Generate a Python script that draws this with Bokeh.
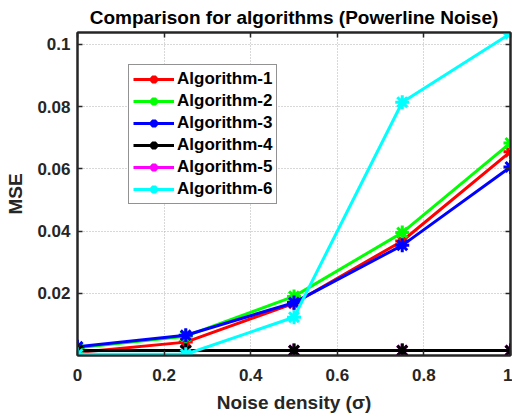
from bokeh.plotting import figure
from bokeh.models import FixedTicker, Legend, LegendItem, LinearAxis, Range1d
from bokeh.embed import file_html
from bokeh.resources import INLINE

noise = [0, 0.25, 0.5, 0.75, 1.0]
alg1 = [0.0010, 0.0043, 0.0168, 0.0368, 0.0655]
alg2 = [0.0025, 0.0062, 0.0190, 0.0395, 0.0683]
alg3 = [0.0028, 0.0065, 0.0170, 0.0354, 0.0606]
alg4 = [0.0016, 0.0016, 0.0016, 0.0016, 0.0016]
alg5 = [0.0016, 0.0016, 0.0016, 0.0016, 0.0016]
alg6 = [0.0004, 0.0004, 0.0123, 0.0814, 0.1035]
names = ["Algorithm-1", "Algorithm-2", "Algorithm-3", "Algorithm-4", "Algorithm-5", "Algorithm-6"]
colors = ["#ff0000", "#00ff00", "#0000ff", "#000000", "#ff00ff", "#00ffff"]
xticks = [0, 0.2, 0.4, 0.6, 0.8, 1.0]
xlabels = ["0", "0.2", "0.4", "0.6", "0.8", "1"]
yticks = [0.02, 0.04, 0.06, 0.08, 0.1]
ylabels = ["0.02", "0.04", "0.06", "0.08", "0.1"]

FONT = "Liberation Sans"
DARK = "#262626"

p = figure(frame_width=433, frame_height=323, output_backend="svg", toolbar_location=None,
           x_range=Range1d(0, 1), y_range=Range1d(0, 0.1038),
           min_border_left=77, min_border_right=2, min_border_top=32, min_border_bottom=64,
           title="Comparison for algorithms (Powerline Noise)")
p.title.text_font = FONT
p.title.text_font_size = "19px"
p.title.text_font_style = "bold"
p.title.text_color = "#000000"
p.title.align = "center"
p.title.offset = 0
p.title.standoff = 9

p.background_fill_color = "white"
p.border_fill_color = "white"
p.outline_line_color = DARK
p.outline_line_width = 2

for ax in (p.xaxis[0], p.yaxis[0]):
    ax.major_label_text_font = FONT
    ax.major_label_text_font_size = "17px"
    ax.major_label_text_font_style = "bold"
    ax.major_label_text_color = DARK
    ax.axis_label_text_font = FONT
    ax.axis_label_text_font_size = "19px"
    ax.axis_label_text_font_style = "bold"
    ax.axis_label_text_color = DARK
    ax.major_tick_in = 5
    ax.major_tick_out = 0
    ax.minor_tick_line_color = None
    ax.axis_line_color = DARK
    ax.axis_line_width = 2
    ax.major_tick_line_color = DARK
    ax.major_tick_line_width = 1.5

p.xaxis[0].ticker = FixedTicker(ticks=xticks)
p.xaxis[0].major_label_overrides = dict(zip(xticks, xlabels))
p.xaxis[0].axis_label = "Noise density (\u03c3)"
p.xaxis[0].major_label_standoff = 13
p.xaxis[0].axis_label_standoff = 8
p.yaxis[0].ticker = FixedTicker(ticks=yticks)
p.yaxis[0].major_label_overrides = dict(zip(yticks, ylabels))
p.yaxis[0].axis_label = "MSE"
p.yaxis[0].major_label_standoff = 7
p.yaxis[0].axis_label_standoff = 8

p.xgrid.ticker = FixedTicker(ticks=xticks)
p.ygrid.ticker = FixedTicker(ticks=yticks)
for g in (p.xgrid[0], p.ygrid[0]):
    g.grid_line_color = "#b0b0b0"
    g.grid_line_dash = "1 2"
    g.grid_line_width = 1

# top/right axes with inward ticks, no labels
top = LinearAxis(ticker=FixedTicker(ticks=xticks),
                 major_label_overrides={t: "" for t in xticks},
                 major_tick_in=5, major_tick_out=0, minor_tick_line_color=None,
                 major_tick_line_color=DARK, major_tick_line_width=1.5,
                 axis_line_color=DARK, axis_line_width=2, major_label_standoff=0)
right = LinearAxis(ticker=FixedTicker(ticks=yticks),
                   major_label_overrides={t: "" for t in yticks},
                   major_tick_in=5, major_tick_out=0, minor_tick_line_color=None,
                   major_tick_line_color=DARK, major_tick_line_width=1.5,
                   axis_line_color=DARK, axis_line_width=2, major_label_standoff=0)
p.add_layout(top, "above")
p.add_layout(right, "right")

series = [alg1, alg2, alg3, alg5, alg4, alg6]
order = [0, 1, 2, 4, 3, 5]
items = {}
for idx, ys in zip(order, series):
    c = colors[idx]
    r1 = p.line(noise, ys, line_color=c, line_width=3)
    r2 = p.scatter(noise, ys, marker="asterisk", size=14, line_color=c, line_width=3)
    items[idx] = LegendItem(label=names[idx], renderers=[r1, r2])

legend = Legend(items=[items[i] for i in range(6)], location=(51, 151))
legend.label_text_font = FONT
legend.label_text_font_size = "17px"
legend.label_text_font_style = "bold"
legend.label_text_color = "#000000"
legend.border_line_color = DARK
legend.border_line_width = 1.5
legend.background_fill_alpha = 1
legend.glyph_width = 41
legend.glyph_height = 20
legend.label_height = 20
legend.spacing = 2
legend.padding = 4
legend.margin = 0
legend.label_standoff = 3
p.add_layout(legend, "center")

open("out.html", "w").write(file_html(p, INLINE))
